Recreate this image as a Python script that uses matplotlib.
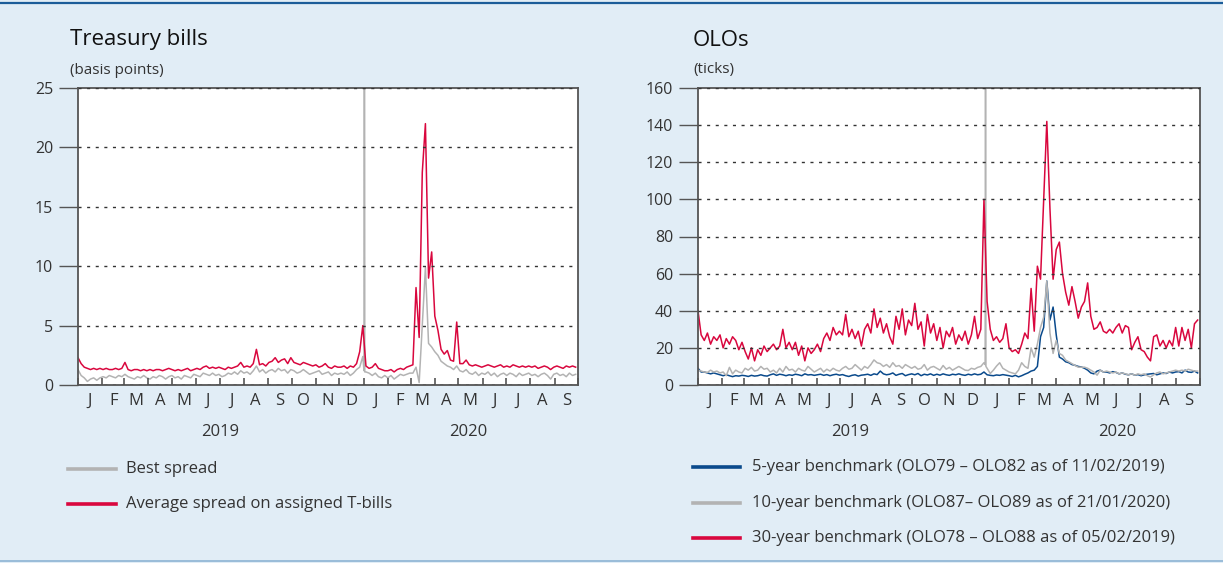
import numpy as np
import pandas as pd
import matplotlib
matplotlib.use("Agg")
import matplotlib.pyplot as plt
import matplotlib.dates as mdates
from matplotlib.lines import Line2D
from matplotlib.ticker import FuncFormatter, MultipleLocator
import matplotlib.transforms as mtransforms

plt.rcParams['font.family'] = ['Open Sans', 'DejaVu Sans']

# one value every 4 days, starting 1 Jan 2019
# Treasury bills (basis points)
tb_best = [
    1.3, 0.8, 0.6, 0.3, 0.5, 0.6, 0.4, 0.6,            # Jan 19
    0.7, 0.6, 0.8, 0.7, 0.6, 0.8, 0.7,                 # Feb
    0.9, 0.7, 0.6, 0.5, 0.7, 0.6, 0.8, 0.6,            # Mar
    0.5, 0.7, 0.6, 0.8, 0.7, 0.5, 0.7,                 # Apr
    0.8, 0.6, 0.7, 0.5, 0.8, 0.7, 0.6, 0.9,            # May
    0.8, 0.7, 1.0, 0.9, 0.8, 1.0, 0.8, 0.9,            # Jun
    0.7, 0.8, 1.0, 0.9, 1.1, 0.9, 1.2,                 # Jul
    1.0, 1.1, 0.9, 1.2, 1.6, 1.1, 1.3, 1.0,            # Aug
    1.2, 1.3, 1.1, 1.4, 1.2, 1.3, 1.0, 1.3,            # Sep
    1.2, 1.0, 1.1, 1.3, 1.1, 0.9, 1.0,                 # Oct
    1.1, 1.2, 0.9, 1.0, 1.1, 0.8, 1.0, 0.9,            # Nov
    1.0, 0.9, 1.1, 0.8, 1.0, 1.3, 1.5, 2.4,            # Dec
    1.1, 1.0, 0.8, 1.0, 0.7, 0.6, 0.8,                 # Jan 20
    0.6, 0.8, 0.5, 0.7, 0.9, 0.8, 0.9, 1.0,            # Feb
    1.0, 1.5, 0.2, 5.0, 9.9, 3.5, 3.2, 2.8,            # Mar
    2.5, 2.0, 1.8, 1.6, 1.5, 1.3, 1.6, 1.2,            # Apr
    1.1, 1.3, 1.0, 0.9, 1.1, 0.8, 1.0,                 # May
    0.9, 1.1, 0.8, 1.0, 0.7, 0.9, 1.0,                 # Jun
    0.8, 1.0, 0.9, 0.7, 1.0, 0.8, 0.9, 1.0,            # Jul
    0.8, 0.9, 0.7, 0.9, 1.0, 0.8, 0.5, 0.9,            # Aug
    1.0, 0.8, 0.9, 0.7, 1.0, 0.8, 0.9,                 # Sep
]
# one-day outlier of the best spread (off the scale)
tb_best_spike_dates = ['2020-01-01 12:00', '2020-01-02 00:00', '2020-01-02 12:00']
tb_best_spike_vals = [1.2, 60.0, 1.1]

tb_avg = [
    2.3, 1.8, 1.5, 1.4, 1.3, 1.4, 1.3, 1.4,
    1.3, 1.4, 1.3, 1.3, 1.4, 1.3, 1.4,
    1.9, 1.3, 1.2, 1.3, 1.3, 1.2, 1.3, 1.2,
    1.3, 1.2, 1.3, 1.3, 1.2, 1.3, 1.4,
    1.3, 1.2, 1.3, 1.2, 1.3, 1.4, 1.2, 1.3,
    1.4, 1.3, 1.5, 1.6, 1.4, 1.5, 1.4, 1.5,
    1.4, 1.3, 1.5, 1.4, 1.5, 1.6, 1.9,
    1.5, 1.6, 1.5, 1.8, 3.0, 1.7, 1.8, 1.6,
    1.9, 2.0, 2.3, 1.9, 2.1, 2.2, 1.8, 2.3,
    1.9, 1.8, 1.7, 1.9, 1.8, 1.7, 1.6,
    1.7, 1.5, 1.6, 1.8, 1.5, 1.4, 1.6, 1.5,
    1.5, 1.6, 1.4, 1.6, 1.5, 1.8, 2.8, 5.0,
    1.6, 1.4, 1.5, 1.8, 1.4, 1.3, 1.2,
    1.2, 1.3, 1.1, 1.3, 1.4, 1.3, 1.5, 1.6,
    1.7, 8.2, 4.0, 17.9, 22.0, 9.0, 11.2, 5.8,
    4.6, 3.0, 2.6, 2.9, 2.1, 2.0, 5.3, 1.8,
    1.8, 2.1, 1.7, 1.6, 1.7, 1.6, 1.5,
    1.6, 1.7, 1.6, 1.5, 1.6, 1.7, 1.5,
    1.6, 1.5, 1.7, 1.6, 1.5, 1.6, 1.5, 1.6,
    1.5, 1.6, 1.4, 1.5, 1.6, 1.5, 1.3, 1.5,
    1.6, 1.5, 1.4, 1.6, 1.5, 1.6, 1.5,
]

# OLOs (ticks)
olo5 = [
    9, 7, 7, 6.5, 6, 6.5, 6, 5.5,
    5, 5.5, 5, 4.5, 5, 4.8, 5.2,
    5, 4.6, 5.2, 4.8, 5, 5.5, 5, 4.8,
    5.5, 6, 5.2, 5.8, 5.5, 5, 5.5,
    5.2, 5.8, 5.5, 5, 6, 5.4, 5.6, 5.2,
    5.5, 5.8, 5.2, 5.6, 5, 5.5, 5.8, 5.3,
    5.6, 5, 4.6, 5.2, 5.5, 4.8, 5.3,
    5.5, 5.8, 5.2, 6, 5.6, 7.5, 6, 5.5,
    5.8, 6.5, 5.2, 5.8, 6.2, 5, 5.6, 6,
    5.5, 6.2, 5, 5.8, 5.4, 6, 5.2,
    5.8, 5.3, 6, 5.5, 5.2, 5.8, 5.5, 6,
    5.5, 5.2, 5.8, 5.4, 6, 5.5, 5.8, 7,
    5.5, 5.2, 5, 5.4, 5.2, 5.6, 5.3,
    5, 4.6, 5.2, 4.4, 5, 5.8, 6.5, 7.5,
    8, 10, 26, 31, 56, 35, 42, 27,
    15, 14, 12.5, 12, 11, 10.6, 10, 9.7,
    9, 8, 6.5, 6, 7.5, 8, 7,
    7, 6.5, 7.2, 6.8, 6, 6.5, 5.8,
    5.5, 6, 5.3, 5.6, 5, 5.5, 5.8, 6,
    6.2, 5.5, 6, 6.5, 6.2, 7, 6.5, 7,
    7.2, 6.5, 8, 7, 6.8, 7.5, 6.5,
]
olo10 = [
    8, 7.5, 7, 6.8, 8, 7, 7.5, 6.5,
    7, 5, 9.5, 6, 8, 7, 6.5,
    9, 8, 9.5, 7.5, 8, 10, 8.5, 9,
    7, 8, 6.5, 9, 7, 10, 8,
    8.5, 7, 9, 8, 7.5, 10, 8.5, 7,
    8, 9, 7, 8.5, 7.5, 9, 8, 7.5,
    9, 10, 8.5, 9, 11, 9.5, 8,
    10, 9, 11, 13.5, 12, 11.5, 10, 11,
    9.5, 12, 10, 10.5, 9, 11, 10, 9,
    10, 8.5, 9, 11, 8, 9.5, 10,
    9, 8, 10.5, 8.5, 9.5, 8, 9, 10,
    9, 8, 7.8, 9, 8.5, 9.5, 10, 12,
    9, 6.2, 8, 10.2, 12, 9, 8,
    7, 6.5, 6, 8, 12, 10, 9, 20,
    15, 22, 31, 36.5, 56, 28, 17, 24,
    17, 16, 13.4, 12.5, 11.5, 10.5, 9.6, 9.6,
    9.6, 9, 8, 7, 5.3, 8, 7,
    7.5, 7, 6.5, 7, 6, 6.5, 6,
    5.5, 6, 5.3, 6, 5.5, 6, 5, 4.3,
    5.5, 6.5, 7, 6, 6.5, 7, 7.5, 8,
    7.5, 8, 7.5, 8.5, 8, 7.5, 7.5,
]
olo10_spike_dates = ['2020-01-01 12:00', '2020-01-02 00:00', '2020-01-02 12:00']
olo10_spike_vals = [11, 200, 10]

olo30 = [
    40, 27, 24, 28, 22, 26, 24, 27,
    20, 25, 22, 26, 24, 19, 23,
    18, 14, 20, 13, 19, 16, 21, 18,
    20, 22, 19, 21, 30, 20, 23,
    19, 23, 16, 21, 13, 20, 17, 19,
    22, 18, 25, 28, 24, 31, 27, 29,
    27, 38, 26, 30, 25, 29, 21,
    30, 33, 28, 41, 31, 36, 28, 33,
    26, 22, 37, 30, 41, 27, 35, 32,
    44, 30, 34, 21, 38, 28, 33,
    24, 31, 20, 29, 26, 31, 22, 27,
    24, 29, 22, 27, 37, 25, 30, 100,
    45, 30, 24, 26, 23, 25, 33,
    20, 18, 19, 17, 22, 28, 25, 52,
    29, 64, 57, 100, 142, 95, 57, 73,
    77, 60, 50, 43, 53, 45, 36, 42,
    45, 55, 37, 30, 31, 34, 29,
    28, 30, 28, 31, 33, 28, 32,
    31, 19, 23, 26, 19, 18, 15, 13,
    26, 27, 21, 24, 20, 24, 21, 31,
    21, 31, 24, 30, 20, 33, 35,
]

months = ['J', 'F', 'M', 'A', 'M', 'J', 'J', 'A', 'S', 'O', 'N', 'D']

W, H = 1223, 563
bg = '#e1edf6'
red = '#d9073e'
grey = '#b3b3b3'
blue = '#0a4a8c'
txt = '#333333'


def series(values, extra_dates=None, extra_vals=None):
    s = pd.Series(values, index=pd.date_range('2019-01-01', periods=len(values), freq='4D'))
    if extra_dates is not None:
        extra = pd.Series(extra_vals, index=pd.to_datetime(extra_dates, format='%Y-%m-%d %H:%M'))
        s = pd.concat([s, extra]).sort_index()
    return s


def fx(x):
    return x / W


def fy(y):
    return 1 - y / H


fig = plt.figure(figsize=(W / 100, H / 100), dpi=100, facecolor=bg)

ax1 = fig.add_axes([fx(78), fy(385), 500 / W, 297 / H])
ax2 = fig.add_axes([fx(698), fy(385), 502 / W, 297 / H])

s = series(tb_best, tb_best_spike_dates, tb_best_spike_vals)
ax1.plot(s.index, s.values, color=grey, lw=1.1)
s = series(tb_avg)
ax1.plot(s.index, s.values, color=red, lw=1.1)

s = series(olo5)
ax2.plot(s.index, s.values, color=blue, lw=1.1)
s = series(olo10, olo10_spike_dates, olo10_spike_vals)
ax2.plot(s.index, s.values, color=grey, lw=1.1)
s = series(olo30)
ax2.plot(s.index, s.values, color=red, lw=1.1)

month_fmt = FuncFormatter(lambda x, pos: months[mdates.num2date(x).month - 1])

for ax, ymax, step in [(ax1, 25, 5), (ax2, 160, 20)]:
    ax.set_facecolor('white')
    ax.set_xlim(pd.Timestamp('2019-01-01'), pd.Timestamp('2020-10-01'))
    ax.set_ylim(0, ymax)
    ax.yaxis.set_major_locator(MultipleLocator(step))
    ax.yaxis.grid(True, linestyle=(0, (2.2, 4)), color='#333333', lw=1.0)
    ax.set_axisbelow(False)
    for sp in ax.spines.values():
        sp.set_color('#555555')
        sp.set_linewidth(1.3)
    ax.tick_params(axis='y', direction='out', length=14, width=1.0,
                   color='#555555', labelsize=11.5, labelcolor=txt, pad=4)
    ax.xaxis.set_major_locator(mdates.MonthLocator())
    ax.xaxis.set_minor_locator(mdates.MonthLocator(bymonthday=16))
    ax.xaxis.set_major_formatter(plt.NullFormatter())
    ax.xaxis.set_minor_formatter(month_fmt)
    ax.tick_params(axis='x', which='major', direction='in', length=5,
                   width=1.2, color='#555555')
    ax.tick_params(axis='x', which='minor', length=0, labelsize=12,
                   labelcolor=txt, pad=6)

# year labels under the month letters
for ax, d19, d20 in [(ax1, '2019-07-01', '2020-05-14'),
                     (ax2, '2019-07-14', '2020-06-18')]:
    tr = mtransforms.blended_transform_factory(ax.transData, fig.transFigure)
    ax.text(mdates.date2num(pd.Timestamp(d19)), fy(432), '2019', transform=tr,
            ha='center', va='center', fontsize=12, color=txt)
    ax.text(mdates.date2num(pd.Timestamp(d20)), fy(432), '2020', transform=tr,
            ha='center', va='center', fontsize=12, color=txt)

# titles
fig.text(fx(70), fy(40), 'Treasury bills', fontsize=16, color='#111111',
         va='center', ha='left')
fig.text(fx(70), fy(70), '(basis points)', fontsize=11, color=txt,
         va='center', ha='left')
fig.text(fx(693), fy(40), 'OLOs', fontsize=16, color='#111111',
         va='center', ha='left')
fig.text(fx(693), fy(70), '(ticks)', fontsize=11, color=txt,
         va='center', ha='left')

# legends
leg_left = [(grey, 'Best spread', 469),
            (red, 'Average spread on assigned T-bills', 504)]
leg_right = [(blue, '5-year benchmark (OLO79 \u2013 OLO82 as of 11/02/2019)', 467),
             (grey, '10-year benchmark (OLO87\u2013 OLO89 as of 21/01/2020)', 503),
             (red, '30-year benchmark (OLO78 \u2013 OLO88 as of 05/02/2019)', 538)]
for items, x0, x1, xt in [(leg_left, 68, 116, 126), (leg_right, 693, 740, 752)]:
    for c, label, y in items:
        fig.add_artist(Line2D([fx(x0), fx(x1)], [fy(y), fy(y)], color=c, lw=2.6,
                              transform=fig.transFigure))
        fig.text(fx(xt), fy(y), label, fontsize=12, color=txt, va='center', ha='left')

# frame lines of the box
fig.add_artist(Line2D([0, 1], [fy(3), fy(3)], color='#1b5c99', lw=1.6,
                      transform=fig.transFigure))
fig.add_artist(Line2D([0, 1], [fy(561), fy(561)], color='#8db4d4', lw=1.2,
                      transform=fig.transFigure))

fig.savefig('out.png', dpi=100, facecolor=bg)
